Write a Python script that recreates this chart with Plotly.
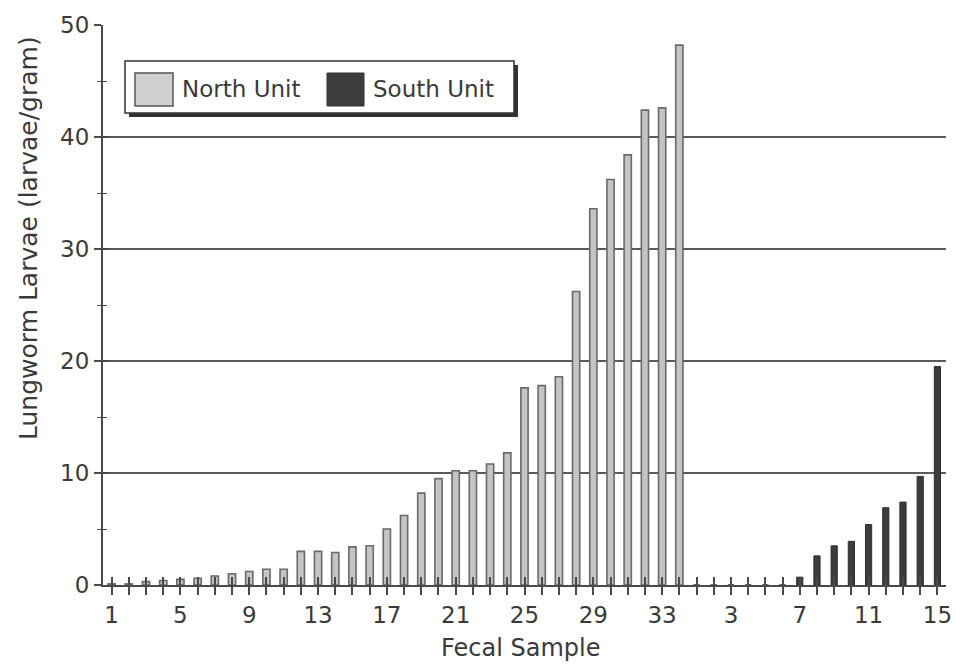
import plotly.graph_objects as go

# ---- data ----
north_samples = list(range(1, 35))
north_values = [0.1, 0.1, 0.3, 0.4, 0.5, 0.6, 0.8, 1.0, 1.2, 1.4,
                1.4, 3.0, 3.0, 2.9, 3.4, 3.5, 5.0, 6.2, 8.2, 9.5,
                10.2, 10.2, 10.8, 11.8, 17.6, 17.8, 18.6, 26.2, 33.6, 36.2,
                38.4, 42.4, 42.6, 48.2]
south_samples = list(range(1, 16))
south_values = [0.0, 0.0, 0.0, 0.0, 0.0, 0.0, 0.7, 2.6, 3.5, 3.9,
                5.4, 6.9, 7.4, 9.7, 19.5]
north_tick_labels = [1, 5, 9, 13, 17, 21, 25, 29, 33]
south_tick_labels = [3, 7, 11, 15]
y_ticks = [0, 10, 20, 30, 40, 50]

# positions on one shared numeric axis
north_pos = [i + 1 for i in range(len(north_samples))]
south_pos = [len(north_samples) + i + 1 for i in range(len(south_samples))]
all_pos = north_pos + south_pos
all_text = ([str(s) if s in north_tick_labels else "" for s in north_samples] +
            [str(s) if s in south_tick_labels else "" for s in south_samples])

FONT = "DejaVu Sans"
TXT = "#3a3a3a"
AX = "#4a4a4a"

fig = go.Figure()
fig.add_trace(go.Bar(x=north_pos, y=north_values, width=0.42, name="North Unit",
                     marker=dict(color="#c4c4c4", line=dict(color="#6a6a6a", width=1.6)),
                     xaxis="x", yaxis="y", showlegend=False))
fig.add_trace(go.Bar(x=south_pos, y=south_values, width=0.36, name="South Unit",
                     marker=dict(color="#3c3c3c", line=dict(color="#2e2e2e", width=1)),
                     xaxis="x2", yaxis="y2", showlegend=False))

L, R, T, B = 103, 10, 25, 81
W, H = 956, 666
PW, PH = W - L - R, H - T - B


def px(xp):
    return (xp - L) / PW


def py(yp):
    return (H - B - yp) / PH


xr = [0.5, len(all_pos) + 0.5]
yr = [0, 50]

common_x = dict(range=xr, tickmode="array", tickvals=all_pos, showgrid=False,
                zeroline=False, tickcolor=AX, tickwidth=1.5, ticklen=8,
                automargin=False)
fig.update_layout(
    width=W, height=H,
    margin=dict(l=L, r=R, t=T, b=B),
    paper_bgcolor="white", plot_bgcolor="white",
    barmode="overlay",
    font=dict(family=FONT, color=TXT, size=24),
    xaxis=dict(**common_x, ticktext=all_text, ticks="outside",
               showline=True, linecolor=AX, linewidth=2,
               ticklabeloverflow="allow",
               tickfont=dict(family=FONT, size=23, color=TXT)),
    xaxis2=dict(**common_x, ticktext=["" for _ in all_pos], ticks="inside",
                overlaying="x", anchor="y2", side="bottom", showline=False,
                showticklabels=False),
    yaxis=dict(range=yr, tickmode="array", tickvals=y_ticks, ticks="outside",
               ticklen=7, tickwidth=1.5, tickcolor=AX, automargin=False,
               showline=True, linecolor=AX, linewidth=2,
               showgrid=True, gridcolor="#5a5a5a", gridwidth=1.5, zeroline=False,
               tickfont=dict(family=FONT, size=23, color=TXT),
               minor=dict(dtick=5, ticks="outside", ticklen=4, tickcolor=AX,
                          tickwidth=1.2, showgrid=False)),
    yaxis2=dict(range=yr, tickmode="array", tickvals=y_ticks, ticks="inside",
                ticklen=7, tickwidth=1.5, tickcolor=AX, overlaying="y",
                anchor="x2", side="left", showgrid=False, zeroline=False,
                showticklabels=False, showline=False, automargin=False,
                minor=dict(dtick=5, ticks="inside", ticklen=4, tickcolor=AX,
                           tickwidth=1.2, showgrid=False)),
)

shapes = []
# legend shadow, box and swatches
shapes.append(dict(type="rect", xref="paper", yref="paper",
                   x0=px(129), x1=px(518), y0=py(117), y1=py(65),
                   fillcolor="#333333", line=dict(width=0), layer="above"))
shapes.append(dict(type="rect", xref="paper", yref="paper",
                   x0=px(125), x1=px(514), y0=py(113), y1=py(61),
                   fillcolor="white", line=dict(color="#333333", width=1.5), layer="above"))
shapes.append(dict(type="rect", xref="paper", yref="paper",
                   x0=px(135), x1=px(173), y0=py(106), y1=py(73),
                   fillcolor="#cfcfcf", line=dict(color="#555555", width=1.5), layer="above"))
shapes.append(dict(type="rect", xref="paper", yref="paper",
                   x0=px(327), x1=px(364), y0=py(106), y1=py(73),
                   fillcolor="#3c3c3c", line=dict(color="#333333", width=1), layer="above"))
fig.update_layout(shapes=shapes)

annotations = [
    dict(text="North Unit", xref="paper", yref="paper", x=px(180), y=py(89),
         xanchor="left", yanchor="middle", showarrow=False,
         font=dict(family=FONT, size=23, color=TXT)),
    dict(text="South Unit", xref="paper", yref="paper", x=px(371), y=py(89),
         xanchor="left", yanchor="middle", showarrow=False,
         font=dict(family=FONT, size=23, color=TXT)),
    dict(text="Fecal Sample", xref="paper", yref="paper", x=px(520), y=py(648),
         xanchor="center", yanchor="middle", showarrow=False,
         font=dict(family=FONT, size=24, color=TXT)),
    dict(text="Lungworm Larvae (larvae/gram)", xref="paper", yref="paper",
         x=px(28), y=py(238), xanchor="center", yanchor="middle", textangle=-90,
         showarrow=False, font=dict(family=FONT, size=25, color=TXT)),
]
fig.update_layout(annotations=annotations)

fig.write_html("out.html", config={"displayModeBar": False},
               post_script="document.body.style.margin='0';document.body.style.overflow='hidden';")
